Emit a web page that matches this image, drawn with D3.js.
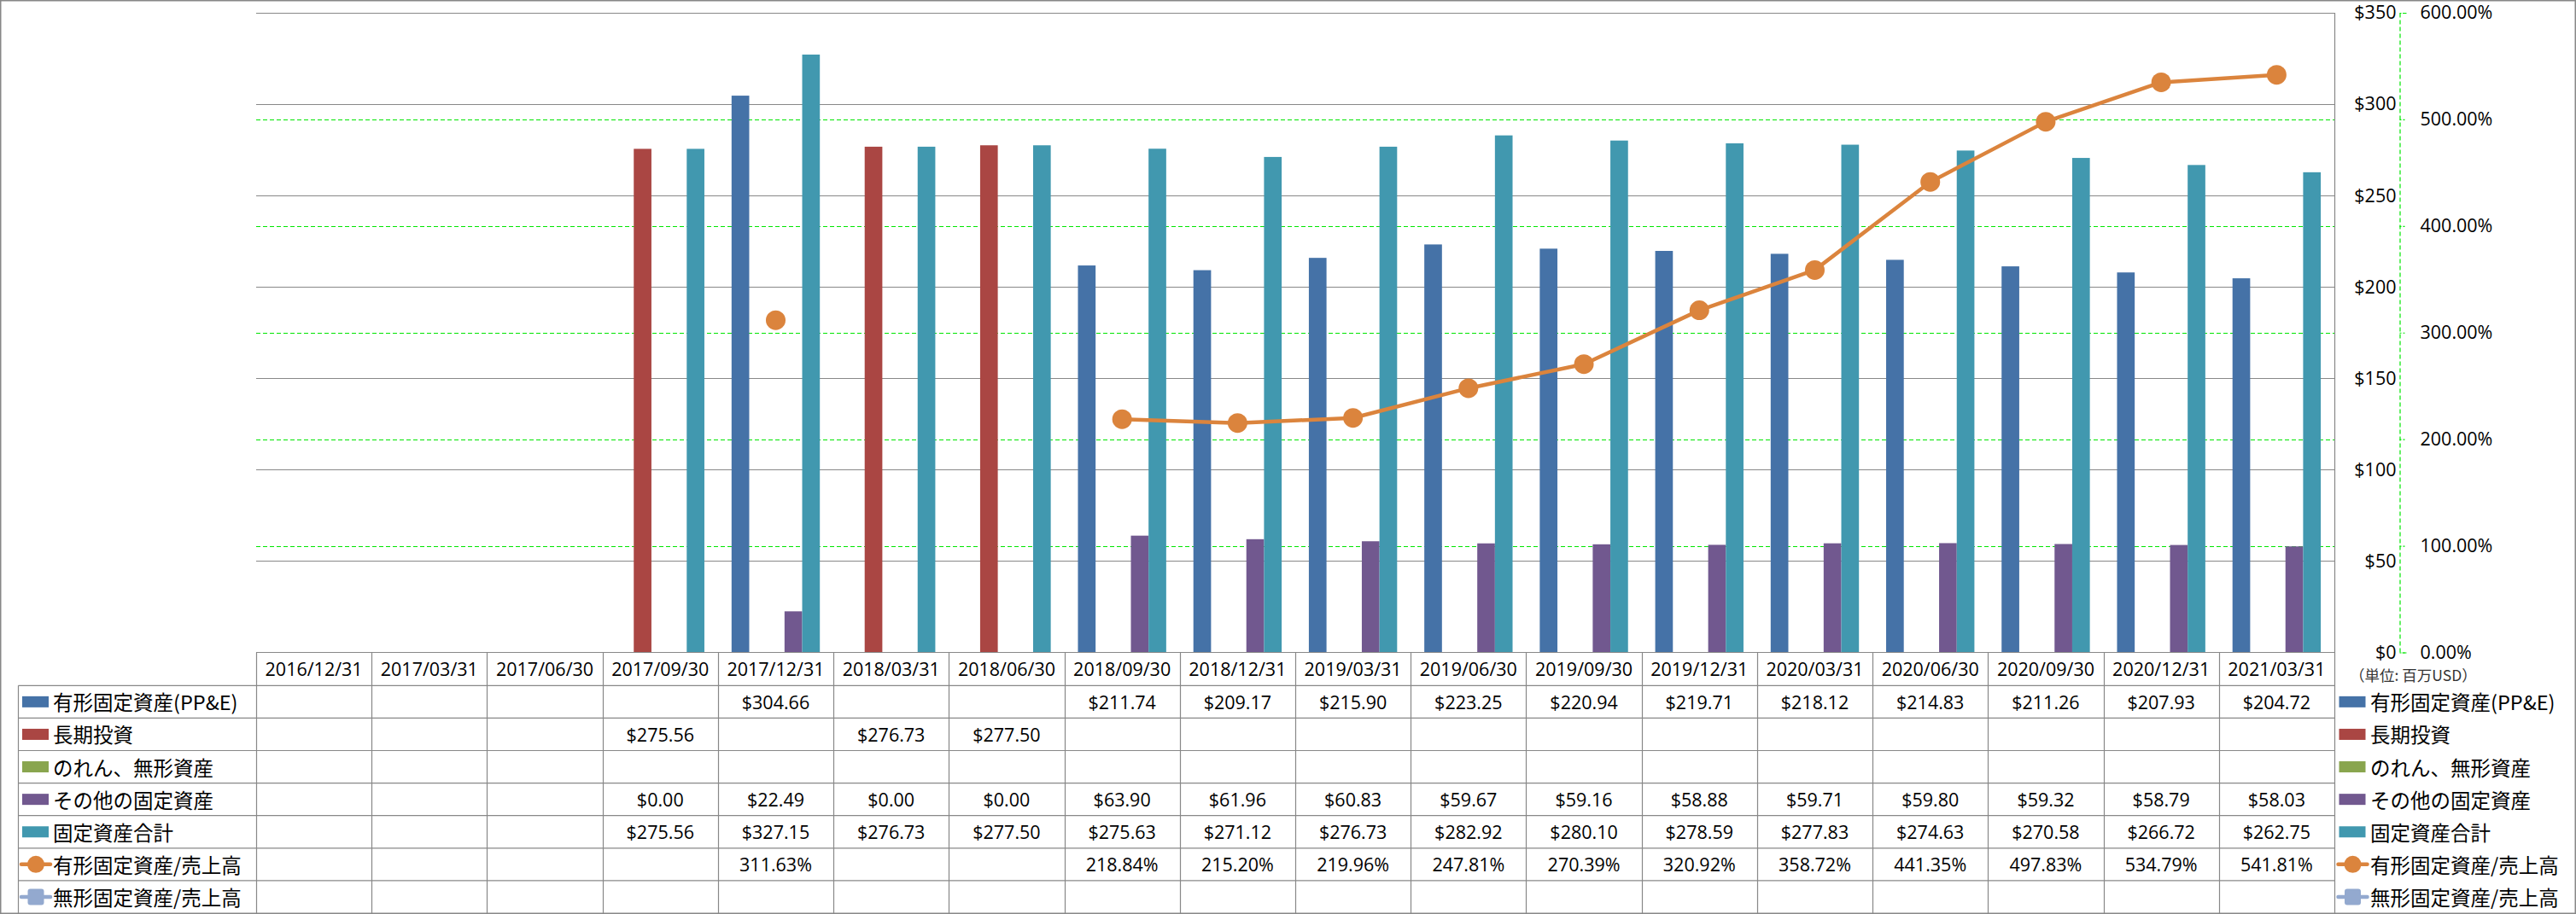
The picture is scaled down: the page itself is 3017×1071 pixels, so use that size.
<!DOCTYPE html>
<meta charset="utf-8">
<head>
    <title>固定資産</title>
</head>
<style>
    body { margin: 0; background: #fff; }
    text { font-family: "Open Sans", "Noto Sans CJK JP", sans-serif; fill: #000; }
    .jp { font-family: "Noto Sans CJK JP", sans-serif; }
</style>
<body>
<svg></svg>
<script src="https://cdnjs.cloudflare.com/ajax/libs/d3/7.8.5/d3.min.js"></script>
<script>
    // Data
    var categories = ["2016/12/31", "2017/03/31", "2017/06/30", "2017/09/30", "2017/12/31", "2018/03/31",
        "2018/06/30", "2018/09/30", "2018/12/31", "2019/03/31", "2019/06/30", "2019/09/30", "2019/12/31",
        "2020/03/31", "2020/06/30", "2020/09/30", "2020/12/31", "2021/03/31"];
    var ppe = [null, null, null, null, 304.66, null, null, 211.74, 209.17, 215.90, 223.25, 220.94, 219.71,
        218.12, 214.83, 211.26, 207.93, 204.72];
    var longTermInv = [null, null, null, 275.56, null, 276.73, 277.50, null, null, null, null, null, null,
        null, null, null, null, null];
    var goodwill = [null, null, null, null, null, null, null, null, null, null, null, null, null,
        null, null, null, null, null];
    var otherFixed = [null, null, null, 0.00, 22.49, 0.00, 0.00, 63.90, 61.96, 60.83, 59.67, 59.16, 58.88,
        59.71, 59.80, 59.32, 58.79, 58.03];
    var totalFixed = [null, null, null, 275.56, 327.15, 276.73, 277.50, 275.63, 271.12, 276.73, 282.92, 280.10,
        278.59, 277.83, 274.63, 270.58, 266.72, 262.75];
    var ppeRatio = [null, null, null, null, 311.63, null, null, 218.84, 215.20, 219.96, 247.81, 270.39, 320.92,
        358.72, 441.35, 497.83, 534.79, 541.81];
    var intangibleRatio = [null, null, null, null, null, null, null, null, null, null, null, null, null,
        null, null, null, null, null];
    var dollarTicks = [0, 50, 100, 150, 200, 250, 300, 350];
    var pctTicks = [0, 1, 2, 3, 4, 5, 6];

    var series = [
        { name: "有形固定資産(PP&E)", type: "bar", color: "#4572A7", values: ppe },
        { name: "長期投資", type: "bar", color: "#AA4643", values: longTermInv },
        { name: "のれん、無形資産", type: "bar", color: "#89A54E", values: goodwill },
        { name: "その他の固定資産", type: "bar", color: "#71588F", values: otherFixed },
        { name: "固定資産合計", type: "bar", color: "#4198AF", values: totalFixed },
        { name: "有形固定資産/売上高", type: "line", marker: "circle", color: "#DB843D", values: ppeRatio },
        { name: "無形固定資産/売上高", type: "line", marker: "square", color: "#93A9CF", values: intangibleRatio }
    ];

    // Layout
    var width = 3017, height = 1071;
    var plotLeft = 300, plotRight = 2734, plotTop = 15, plotBottom = 764.5;
    var rowH = 38.1, headerBottom = 803.3, labelLeft = 21.5;
    var gridColor = "#888888", green = "#00e600";

    var svg = d3.select("svg").attr("width", width).attr("height", height);

    var x0 = d3.scaleBand().domain(categories).range([plotLeft, plotRight]).padding(0);
    var barSeries = series.filter(s => s.type === "bar");
    var x1 = d3.scaleBand().domain(barSeries.map(s => s.name)).range([0, x0.bandwidth()])
        .paddingInner(0).paddingOuter(0.77);
    var y = d3.scaleLinear().domain([0, 350]).range([plotBottom, plotTop]);
    var y2 = d3.scaleLinear().domain([0, 6]).range([plotBottom, plotTop]);

    // outer frame
    svg.append("rect")
        .attr("x", 0.75).attr("y", 0.75)
        .attr("width", width - 1.5).attr("height", height - 1.5)
        .attr("fill", "#fff").attr("stroke", gridColor).attr("stroke-width", 1.5);

    // secondary gridlines (green dashed)
    svg.append("g").selectAll("line")
        .data(pctTicks.filter(t => t > 0 && t < 6))
        .enter().append("line")
        .attr("x1", plotLeft).attr("x2", plotRight)
        .attr("y1", d => Math.round(y2(d)) + 0.5).attr("y2", d => Math.round(y2(d)) + 0.5)
        .attr("stroke", green).attr("stroke-width", 1.2).attr("stroke-dasharray", "5,3");

    // primary gridlines
    svg.append("g").selectAll("line")
        .data(dollarTicks.filter(t => t > 0))
        .enter().append("line")
        .attr("x1", plotLeft).attr("x2", plotRight)
        .attr("y1", d => Math.round(y(d)) + 0.5).attr("y2", d => Math.round(y(d)) + 0.5)
        .attr("stroke", gridColor).attr("stroke-width", 1.2);

    // bars
    barSeries.forEach(s => {
        svg.append("g").selectAll("rect")
            .data(categories.map((c, i) => ({ c: c, v: s.values[i] })).filter(d => d.v != null && d.v > 0))
            .enter().append("rect")
            .attr("x", d => x0(d.c) + x1(s.name))
            .attr("width", x1.bandwidth())
            .attr("y", d => y(d.v))
            .attr("height", d => y(0) - y(d.v))
            .attr("fill", s.color);
    });

    // lines
    series.filter(s => s.type === "line").forEach(s => {
        var pts = categories.map((c, i) => ({ c: c, v: s.values[i] == null ? null : s.values[i] / 100 }));
        var line = d3.line()
            .defined(d => d.v != null)
            .x(d => x0(d.c) + x0.bandwidth() / 2)
            .y(d => y2(d.v));
        svg.append("path")
            .attr("d", line(pts))
            .attr("fill", "none").attr("stroke", s.color).attr("stroke-width", 4.5)
            .attr("stroke-linejoin", "round").attr("stroke-linecap", "round");
        svg.append("g").selectAll("circle")
            .data(pts.filter(d => d.v != null))
            .enter().append("circle")
            .attr("cx", d => x0(d.c) + x0.bandwidth() / 2)
            .attr("cy", d => y2(d.v))
            .attr("r", 11.5)
            .attr("fill", s.color);
    });

    // right border of plot + table
    svg.append("line")
        .attr("x1", plotRight + 0.5).attr("x2", plotRight + 0.5)
        .attr("y1", plotTop).attr("y2", height)
        .attr("stroke", gridColor).attr("stroke-width", 1.2);

    // axes on the right
    var axisX = 2810.5;
    var leftAxis = svg.append("g")
        .attr("transform", `translate(${axisX},0)`)
        .call(d3.axisLeft(y).tickValues(dollarTicks).tickFormat(d3.format("$")).tickSize(0).tickPadding(4));
    leftAxis.select(".domain").remove();
    leftAxis.selectAll("text").attr("font-size", 21.5).attr("font-family", "Open Sans");

    var rightAxis = svg.append("g")
        .attr("transform", `translate(${axisX},0)`)
        .call(d3.axisRight(y2).tickValues(pctTicks).tickFormat(d3.format(".2%")).tickSize(8).tickPadding(16));
    rightAxis.select(".domain").attr("stroke", green).attr("stroke-dasharray", "5,3").attr("stroke-width", 1.2);
    rightAxis.selectAll(".tick line").attr("stroke", green).attr("stroke-dasharray", "2,2").attr("stroke-width", 1.2);
    rightAxis.selectAll("text").attr("font-size", 21.5).attr("font-family", "Open Sans");

    svg.append("text")
        .attr("class", "jp")
        .attr("x", 2752).attr("y", 793)
        .attr("dominant-baseline", "middle")
        .attr("font-size", 17.5)
        .style("fill", "#333")
        .text("（単位: 百万USD）");

    // data table
    var table = svg.append("g");
    var tableBottom = height - 1;
    // header row vertical lines + row lines
    table.selectAll("line.v")
        .data(categories)
        .enter().append("line")
        .attr("x1", d => Math.round(x0(d)) + 0.5).attr("x2", d => Math.round(x0(d)) + 0.5)
        .attr("y1", plotBottom).attr("y2", tableBottom)
        .attr("stroke", gridColor).attr("stroke-width", 1.2);
    table.append("line")
        .attr("x1", plotLeft).attr("x2", plotRight)
        .attr("y1", plotBottom).attr("y2", plotBottom)
        .attr("stroke", gridColor).attr("stroke-width", 1.2);
    table.append("line")
        .attr("x1", labelLeft).attr("x2", labelLeft)
        .attr("y1", headerBottom).attr("y2", tableBottom)
        .attr("stroke", gridColor).attr("stroke-width", 1.2);
    table.selectAll("line.h")
        .data(series)
        .enter().append("line")
        .attr("x1", labelLeft).attr("x2", plotRight)
        .attr("y1", (d, i) => headerBottom + i * rowH).attr("y2", (d, i) => headerBottom + i * rowH)
        .attr("stroke", gridColor).attr("stroke-width", 1.2);

    table.selectAll("text.head")
        .data(categories)
        .enter().append("text")
        .attr("x", d => x0(d) + x0.bandwidth() / 2)
        .attr("y", (plotBottom + headerBottom) / 2)
        .attr("text-anchor", "middle").attr("dominant-baseline", "central")
        .attr("font-size", 21.5)
        .text(d => d);

    var fmtDollar = d3.format("$.2f");
    var fmtPct = v => d3.format(".2%")(v / 100);

    function drawKey(g, s, cx, cy) {
        if (s.type === "bar") {
            g.append("rect").attr("x", cx - 16).attr("y", cy - 6.5).attr("width", 31).attr("height", 13).attr("fill", s.color);
        } else {
            g.append("line").attr("x1", cx - 17).attr("x2", cx + 17).attr("y1", cy).attr("y2", cy)
                .attr("stroke", s.color).attr("stroke-width", 4.5).attr("stroke-linecap", "round");
            if (s.marker === "circle") {
                g.append("circle").attr("cx", cx).attr("cy", cy).attr("r", 10).attr("fill", s.color);
            } else {
                g.append("rect").attr("x", cx - 9.5).attr("y", cy - 9.5).attr("width", 19).attr("height", 19)
                    .attr("rx", 3).attr("fill", s.color);
            }
        }
    }

    series.forEach((s, i) => {
        var cy = headerBottom + i * rowH + rowH / 2;
        var row = table.append("g");
        drawKey(row, s, 42, cy);
        row.append("text").attr("class", "jp")
            .attr("x", 62).attr("y", cy)
            .attr("dominant-baseline", "central")
            .attr("font-size", 23.5)
            .text(s.name);
        row.selectAll("text.val")
            .data(categories.map((c, j) => ({ c: c, v: s.values[j] })).filter(d => d.v != null))
            .enter().append("text")
            .attr("x", d => x0(d.c) + x0.bandwidth() / 2)
            .attr("y", cy)
            .attr("text-anchor", "middle").attr("dominant-baseline", "central")
            .attr("font-size", 21.5)
            .text(d => s.type === "bar" ? fmtDollar(d.v) : fmtPct(d.v));

        // right legend
        var lg = svg.append("g");
        drawKey(lg, s, 2755.5, cy);
        lg.append("text").attr("class", "jp")
            .attr("x", 2776).attr("y", cy)
            .attr("dominant-baseline", "central")
            .attr("font-size", 23.5)
            .text(s.name);
    });
</script>
</body>
</html>
